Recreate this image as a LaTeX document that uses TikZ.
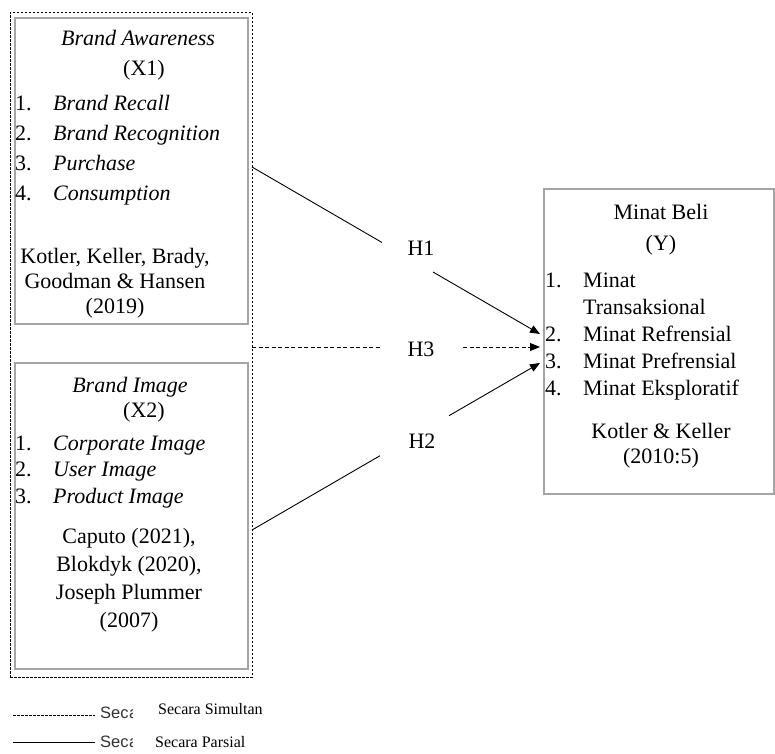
\documentclass[tikz,border=0pt]{standalone}
\usepackage{fontspec}
\setmainfont{Liberation Serif}
\newfontfamily\legsans{Liberation Sans}
\usetikzlibrary{arrows.meta}
\definecolor{boxgray}{RGB}{165,165,165}
\newcommand{\numitem}[2]{\makebox[38pt][l]{#1}#2}
\begin{document}
\begin{tikzpicture}[x=1pt,y=-1pt,
  gbox/.style={draw=boxgray, line width=1.6pt, rectangle, inner sep=0pt, anchor=north west},
  grpbox/.style={draw=black, line width=0.8pt, dash pattern=on 2.5pt off 1.5pt, rectangle, inner sep=0pt, anchor=north west},
  txt/.style={inner sep=0pt, font=\fontsize{22}{27}\selectfont},
  hlab/.style={inner sep=0pt, font=\fontsize{22}{26}\selectfont},
  conn/.style={draw=black, line width=0.9pt},
  dconn/.style={conn, dash pattern=on 4pt off 2.5pt},
  tip/.style={-{Triangle[length=10pt,width=8pt]}},
  legt/.style={inner sep=0pt, font=\fontsize{16}{19}\selectfont, anchor=west},
  legs/.style={inner sep=0pt, font=\legsans\fontsize{16.5}{19}\selectfont, text=black!80},
]
\useasboundingbox (0,0) rectangle (775,753);
\fill[white] (0,0) rectangle (775,753);

% group frame
\node[grpbox, minimum width=242pt, minimum height=665pt] (grp) at (10,12) {};

% X1
\node[gbox, minimum width=233pt, minimum height=306pt] (x1) at (14,17) {};
\node[txt, align=center, font=\fontsize{22}{30}\selectfont] (x1t) at (138,55) {\textit{Brand Awareness}\\\hspace*{12pt}(X1)};
\node[txt, align=left, anchor=west, font=\fontsize{22}{30}\selectfont] (x1l) at (15,150)
  {\numitem{1.}{\textit{Brand Recall}}\\\numitem{2.}{\textit{Brand Recognition}}\\\numitem{3.}{\textit{Purchase}}\\\numitem{4.}{\textit{Consumption}}};
\node[txt, align=center, font=\fontsize{22}{25}\selectfont] (x1r) at (115,283) {Kotler, Keller, Brady,\\Goodman \& Hansen\\(2019)};

% X2
\node[gbox, minimum width=233pt, minimum height=306pt] (x2) at (14,362) {};
\node[txt, align=center, font=\fontsize{22}{25}\selectfont] (x2t) at (130,400) {\textit{Brand Image}\\\hspace*{28pt}(X2)};
\node[txt, align=left, anchor=west, font=\fontsize{22}{26.5}\selectfont] (x2l) at (15,472)
  {\numitem{1.}{\textit{Corporate Image}}\\\numitem{2.}{\textit{User Image}}\\\numitem{3.}{\textit{Product Image}}};
\node[txt, align=center, font=\fontsize{22}{28}\selectfont] (x2r) at (129,580) {Caputo (2021),\\Blokdyk (2020),\\Joseph Plummer\\(2007)};

% Y
\node[gbox, minimum width=230pt, minimum height=305pt] (y) at (543,188) {};
\node[txt, align=center, font=\fontsize{22}{31}\selectfont] (yt) at (661,230) {Minat Beli\\(Y)};
\node[txt, align=left, anchor=west, font=\fontsize{22}{27}\selectfont] (yl) at (545,337)
  {\numitem{1.}{Minat}\\\hspace*{38pt}Transaksional\\\numitem{2.}{Minat Refrensial}\\\numitem{3.}{Minat Prefrensial}\\\numitem{4.}{Minat Eksploratif}};
\node[txt, align=center, font=\fontsize{22}{25}\selectfont] (yr) at (661,446) {Kotler \& Keller\\(2010:5)};

% hypothesis labels
\node[hlab] (h1) at (421,248) {H1};
\node[hlab] (h3) at (421,349) {H3};
\node[hlab] (h2) at (422,441) {H2};

% connectors
\coordinate (h1s) at (252,167);
\coordinate (h1a) at (382,242.5);
\coordinate (h1b) at (433,272);
\coordinate (h1e) at (540,334);
\draw[conn] (h1s) -- (h1a);
\draw[conn, tip] (h1b) -- (h1e);

\coordinate (h3s) at (252,347);
\coordinate (h3a) at (380,347);
\coordinate (h3b) at (463,347);
\coordinate (h3e) at (540,347);
\draw[dconn] (h3s) -- (h3a);
\draw[dconn, tip] (h3b) -- (h3e);

\coordinate (h2s) at (252,530);
\coordinate (h2a) at (380,455.7);
\coordinate (h2b) at (449,415.7);
\coordinate (h2e) at (540,363);
\draw[conn] (h2s) -- (h2a);
\draw[conn, tip] (h2b) -- (h2e);

% legend
\coordinate (l1a) at (13,715);
\coordinate (l1b) at (95,715);
\coordinate (l2a) at (13,742);
\coordinate (l2b) at (95,742);
\draw[conn, line width=0.8pt, dash pattern=on 2.5pt off 1.5pt] (l1a) -- (l1b);
\draw[conn] (l2a) -- (l2b);
\node[legs, anchor=west] (ls1) at (100,713) {Sec};
\node[legs, anchor=west] (ls2) at (100,742) {Sec};
\begin{scope}
  \clip (ls1.east |- 0,690) rectangle (132,753);
  \node[legs, anchor=base west] (ls1a) at (ls1.base east) {a};
  \node[legs, anchor=base west] (ls2a) at (ls2.base east) {a};
\end{scope}
\node[legt] (lt1) at (158,709) {Secara Simultan};
\node[legt] (lt2) at (155,742) {Secara Parsial};
\end{tikzpicture}
\end{document}
